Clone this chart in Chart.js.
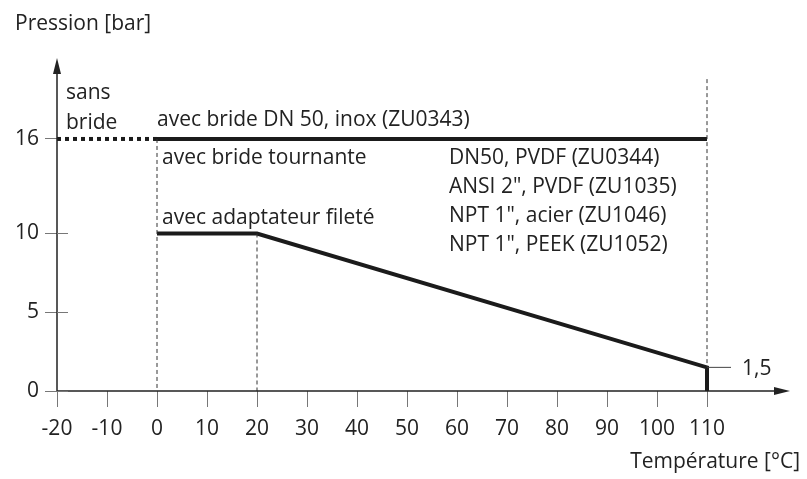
<!DOCTYPE html>
<html>
<head>
<meta charset="utf-8">
<script src="https://cdn.jsdelivr.net/npm/chart.js@4.4.1/dist/chart.umd.min.js"></script>
<style>
    html, body { margin: 0; padding: 0; background: #fff; }
    #wrap { width: 807px; height: 479px; }
</style>
</head>
<body>
<div id="wrap"><canvas id="chart" width="807" height="479"></canvas></div>
<script>
// --- data ---
const xTicks = [-20, -10, 0, 10, 20, 30, 40, 50, 60, 70, 80, 90, 100, 110];
const yTicks = [0, 5, 10, 16];

// pressure limits [temperature, pressure]
const sansBride = [[-20, 16], [0, 16]];
const brideInox = [[0, 16], [110, 16]];
const adaptateur = [[0, 10], [20, 10], [110, 1.5], [110, 0]];

// thin dashed guides and the 1,5 marker
const guide0 = [[0, 16], [0, 0]];
const guide20 = [[20, 10], [20, 0]];
const guide110 = [[110, 19.8], [110, 1.5]];
const mark15 = [[110, 1.5], [114.8, 1.5]];

// text notes [text, temperature, pressure]
const notes = [
    ['sans', -18.2, 18.9],
    ['bride', -18.2, 17.0],
    ['avec bride DN 50, inox (ZU0343)', 0, 17.2],
    ['avec bride tournante', 1, 14.8],
    ['avec adaptateur fileté', 1, 11.0],
    ['DN50, PVDF (ZU0344)', 58.4, 14.8],
    ['ANSI 2", PVDF (ZU1035)', 58.4, 12.95],
    ['NPT 1", acier (ZU1046)', 58.4, 11.1],
    ['NPT 1", PEEK (ZU1052)', 58.4, 9.27],
    ['1,5', 117, 1.4]
];

const xMin = -20, xMax = 128.6, xArrow = 126.6;
const yMin = 0, yMax = 21.14;

const FONT = "'Open Sans', sans-serif";
const SIZE = 21;
const INK = '#222';

const pts = arr => arr.map(p => ({ x: p[0], y: p[1] }));

function line(data, width, dash, color) {
    return {
        data: pts(data),
        showLine: true,
        borderColor: color || '#1b1b1b',
        borderWidth: width,
        borderDash: dash || [],
        borderCapStyle: 'butt',
        borderJoinStyle: 'miter',
        pointRadius: 0,
        fill: false,
        tension: 0
    };
}

// axes with arrows, inner tick halves and the notes
const drawing = {
    id: 'drawing',
    afterDatasetsDraw(chart) {
        const { ctx, scales: { x, y } } = chart;
        const x0 = x.getPixelForValue(xMin);
        const y0 = y.getPixelForValue(yMin);
        const xa = x.getPixelForValue(xArrow);
        const ya = y.getPixelForValue(yMax);
        ctx.save();
        ctx.strokeStyle = INK;
        ctx.fillStyle = INK;
        ctx.lineWidth = 1.5;
        ctx.beginPath();
        ctx.moveTo(x0, y0);
        ctx.lineTo(xa - 10, y0);
        ctx.moveTo(x0, y0);
        ctx.lineTo(x0, ya + 10);
        ctx.stroke();
        // arrow heads
        ctx.beginPath();
        ctx.moveTo(xa, y0);
        ctx.lineTo(xa - 16, y0 - 4);
        ctx.lineTo(xa - 16, y0 + 4);
        ctx.closePath();
        ctx.fill();
        ctx.beginPath();
        ctx.moveTo(x0, ya);
        ctx.lineTo(x0 - 4, ya + 16);
        ctx.lineTo(x0 + 4, ya + 16);
        ctx.closePath();
        ctx.fill();
        // tick halves inside the plot
        ctx.strokeStyle = '#777';
        ctx.lineWidth = 1;
        [0, 5, 10].forEach(v => {
            const py = Math.round(y.getPixelForValue(v)) + 0.5;
            ctx.beginPath();
            ctx.moveTo(x0, py);
            ctx.lineTo(x0 + 11, py);
            ctx.stroke();
        });
        // notes
        ctx.font = SIZE + 'px ' + FONT;
        ctx.textBaseline = 'middle';
        ctx.textAlign = 'left';
        notes.forEach(n => {
            ctx.fillText(n[0], x.getPixelForValue(n[1]), y.getPixelForValue(n[2]));
        });
        ctx.restore();
    }
};

new Chart(document.getElementById('chart'), {
    type: 'scatter',
    data: {
        datasets: [
            line(guide0, 1, [4, 3], '#333'),
            line(guide20, 1, [4, 3], '#333'),
            line(guide110, 1, [4, 3], '#333'),
            line(mark15, 1, [], '#444'),
            line(sansBride, 4, [4, 4]),
            line(brideInox, 4),
            line(adaptateur, 4)
        ]
    },
    options: {
        responsive: false,
        animation: false,
        layout: { padding: { left: 15, right: 7, top: 0, bottom: 0 } },
        plugins: {
            legend: { display: false },
            tooltip: { enabled: false },
            title: {
                display: true,
                text: 'Pression [bar]',
                align: 'start',
                color: INK,
                font: { family: FONT, size: SIZE, weight: 'normal' },
                padding: { top: 11, bottom: 21.8 }
            }
        },
        scales: {
            x: {
                type: 'linear',
                min: xMin,
                max: xMax,
                afterBuildTicks: s => { s.ticks = xTicks.map(v => ({ value: v })); },
                afterFit: s => { s.height = 88; },
                border: { display: false },
                grid: { drawOnChartArea: false, tickLength: 16, color: '#777', lineWidth: 1 },
                ticks: {
                    color: INK,
                    padding: 9,
                    maxRotation: 0,
                    autoSkip: false,
                    font: { family: FONT, size: SIZE }
                },
                title: {
                    display: true,
                    text: 'Température [°C]',
                    align: 'end',
                    color: INK,
                    font: { family: FONT, size: SIZE },
                    padding: { top: 6, bottom: 4.4 }
                }
            },
            y: {
                type: 'linear',
                min: yMin,
                max: yMax,
                afterBuildTicks: s => { s.ticks = yTicks.map(v => ({ value: v })); },
                afterFit: s => { s.width = 42; },
                border: { display: false },
                grid: { drawOnChartArea: false, tickLength: 12, color: '#777', lineWidth: 1 },
                ticks: {
                    color: INK,
                    padding: 6,
                    font: { family: FONT, size: SIZE }
                }
            }
        }
    },
    plugins: [drawing]
});
</script>
</body>
</html>
